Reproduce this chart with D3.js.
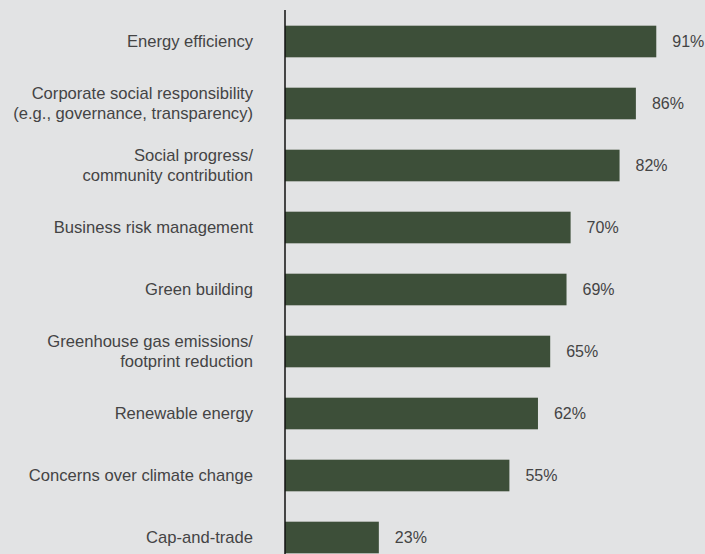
<!DOCTYPE html>
<html>
<head>
<meta charset="utf-8">
<script src="https://cdn.jsdelivr.net/npm/d3@7"></script>
<style>
	html, body { margin: 0; padding: 0; background: #e2e3e4; }
	svg { display: block; }
</style>
</head>
<body>
<div id="chart"></div>
<script>
// Data
var categories = [
	"Energy efficiency",
	"Corporate social responsibility|(e.g., governance, transparency)",
	"Social progress/|community contribution",
	"Business risk management",
	"Green building",
	"Greenhouse gas emissions/|footprint reduction",
	"Renewable energy",
	"Concerns over climate change",
	"Cap-and-trade"
];
var values = [ 91, 86, 82, 70, 69, 65, 62, 55, 23 ];

var width = 705, height = 554;
var axisX = 285;

var svg = d3.select( "#chart" ).append( "svg" )
	.attr( "width", width )
	.attr( "height", height );

svg.append( "rect" )
	.attr( "width", width )
	.attr( "height", height )
	.attr( "fill", "#e2e3e4" );

var x = d3.scaleLinear()
	.domain( [ 0, 100 ] )
	.range( [ axisX, axisX + 408 ] );

var y = d3.scaleBand()
	.domain( categories )
	.range( [ 10.5, 568.5 ] )
	.paddingInner( 0.49 )
	.paddingOuter( 0.245 );

var rows = svg.append( "g" )
	.selectAll( "g" )
	.data( categories )
	.enter()
	.append( "g" );

rows.append( "rect" )
	.attr( "x", x( 0 ) )
	.attr( "y", function( d ) { return y( d ); } )
	.attr( "width", function( d, i ) { return x( values[ i ] ) - x( 0 ); } )
	.attr( "height", y.bandwidth() )
	.attr( "fill", "#3d4f39" );

rows.append( "text" )
	.attr( "x", function( d, i ) { return x( values[ i ] ) + 16; } )
	.attr( "y", function( d ) { return y( d ) + y.bandwidth() / 2; } )
	.attr( "dy", "0.36em" )
	.attr( "font-family", "Liberation Sans, Arial, sans-serif" )
	.attr( "font-size", 16 )
	.attr( "fill", "#444" )
	.text( function( d, i ) { return values[ i ] + "%"; } );

// category labels, split on |
rows.append( "text" )
	.attr( "text-anchor", "end" )
	.attr( "font-family", "Liberation Sans, Arial, sans-serif" )
	.attr( "font-size", 16.6 )
	.attr( "fill", "#444" )
	.each( function( d ) {
		var lines = d.split( "|" );
		var cy = y( d ) + y.bandwidth() / 2;
		var lh = 20;
		var t = d3.select( this );
		lines.forEach( function( line, k ) {
			t.append( "tspan" )
				.attr( "x", 253 )
				.attr( "y", cy + ( k - ( lines.length - 1 ) / 2 ) * lh )
				.attr( "dy", "0.36em" )
				.text( line );
		} );
	} );

// vertical axis line
svg.append( "line" )
	.attr( "x1", axisX )
	.attr( "x2", axisX )
	.attr( "y1", 10 )
	.attr( "y2", height )
	.attr( "stroke", "#111" )
	.attr( "stroke-width", 1.5 );
</script>
</body>
</html>
